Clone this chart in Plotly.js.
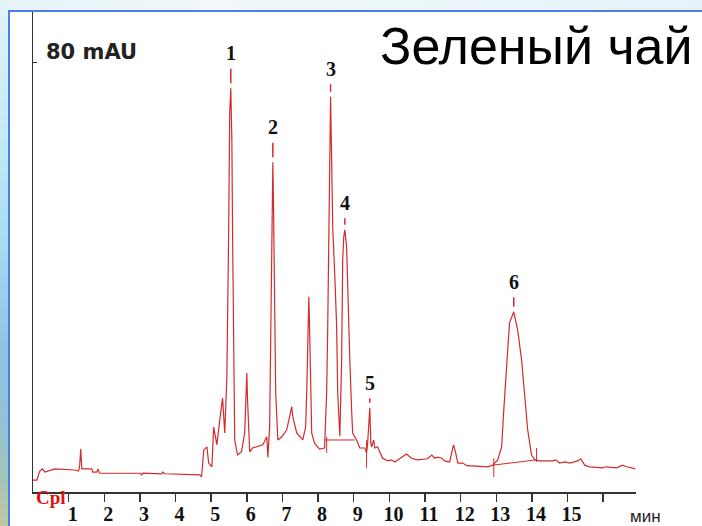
<!DOCTYPE html>
<html>
<head>
<meta charset="utf-8">
<script src="https://cdn.plot.ly/plotly-3.0.1.min.js"></script>
<style>
  html, body { margin:0; padding:0; width:702px; height:526px; overflow:hidden;
    background: linear-gradient(90deg, #e6f2f9 0%, #f1f7fb 30%, #eaf5fb 70%, #e4f3fa 100%); }
  #leftstrip { position:absolute; left:0; top:0; width:8px; height:526px;
    background: linear-gradient(180deg, #e3f3fa 0%, #c4ebf9 25%, #a9def5 45%, #8fc4e4 65%, #93c2d8 80%, #a6c6b4 92%, #c0c6a0 100%); }
  #panel { position:absolute; left:8px; top:10px; width:694px; height:516px; background:#ffffff;
    border-left:2px solid #4a7fe6; border-top:2px solid #4a7fe6; box-sizing:border-box; }
  #chart { position:absolute; left:0; top:0; width:702px; height:526px; }
</style>
</head>
<body>
<div id="leftstrip"></div>
<div id="panel"></div>
<div id="chart"></div>
<script>
// Retention time (min)
var time = [0.00,0.11,0.19,0.27,0.33,0.56,0.61,1.17,1.28,1.31,1.34,1.37,1.65,1.68,1.79,1.82,1.87,3.00,3.05,3.08,3.61,3.64,3.70,4.68,4.73,4.79,4.88,4.93,5.02,5.07,5.16,5.24,5.32,5.38,5.44,5.49,5.52,5.55,5.58,5.60,5.63,5.66,5.74,5.85,5.94,6.00,6.02,6.08,6.16,6.45,6.56,6.59,6.64,6.70,6.73,6.75,6.78,6.81,6.87,6.98,7.12,7.26,7.29,7.40,7.57,7.65,7.68,7.71,7.74,7.76,7.79,7.82,7.90,8.04,8.18,8.21,8.24,8.27,8.30,8.32,8.35,8.38,8.41,8.47,8.52,8.55,8.61,8.66,8.69,8.72,8.75,8.80,8.83,8.89,8.94,8.97,9.08,9.17,9.31,9.36,9.39,9.42,9.45,9.48,9.50,9.56,9.59,9.67,9.81,9.95,10.06,10.15,10.29,10.37,10.48,10.62,10.79,11.07,11.19,11.27,11.35,11.47,11.55,11.69,11.75,11.80,11.86,11.92,12.06,12.17,12.76,12.90,13.04,13.15,13.21,13.29,13.37,13.49,13.60,13.71,13.79,13.88,13.99,14.08,14.22,14.58,14.66,14.78,14.92,15.06,15.28,15.37,15.48,15.62,15.98,16.09,16.38,16.54,16.66,16.82,16.90];
// Detector signal (mAU)
var signal = [2.2,2.2,3.9,4.3,3.7,4.1,4.3,4.1,3.9,5.0,8.0,4.3,4.3,3.7,3.7,4.3,3.5,3.5,3.2,3.5,3.4,3.7,3.4,3.2,2.8,7.8,8.4,5.4,4.7,12.1,8.8,13.4,17.5,11.0,21.5,48.3,70.7,75.3,65.6,48.3,21.5,9.7,6.9,7.5,11.0,22.2,17.2,7.5,8.2,8.8,10.3,6.5,12.1,43.3,61.5,52.6,37.1,18.5,9.7,10.3,11.6,15.9,14.0,11.0,9.7,12.1,18.5,30.8,36.4,30.8,18.5,11.0,9.1,8.0,8.2,12.1,18.5,30.8,49.4,68.1,73.7,61.9,49.4,40.1,30.8,18.5,10.4,24.6,43.3,47.6,48.9,45.7,37.1,24.6,15.3,11.0,9.7,8.2,8.2,7.3,9.1,13.4,15.7,9.1,8.4,9.7,8.2,8.4,6.3,5.8,6.0,5.6,6.2,6.5,7.1,6.3,6.0,6.2,6.9,6.3,6.5,6.3,5.8,5.6,7.3,8.8,7.3,5.4,5.4,4.9,4.7,5.0,6.0,8.4,15.3,22.8,31.5,33.6,30.2,24.6,18.5,11.6,6.9,6.0,5.8,5.8,6.0,5.4,5.6,5.4,5.8,6.2,5.0,4.7,4.5,4.7,4.5,5.0,4.7,4.5,4.3];
// Integration baseline segments (null separates segments)
var baseTime   = [8.24,8.24,null,8.18,9.03,null,9.36,9.36,null,12.90,14.13,null,12.93,12.93,null,14.13,14.13];
var baseSignal = [10.3,7.3,null,9.7,9.7,null,9.7,4.5,null,5.0,6.0,null,6.3,2.8,null,8.2,5.6];
// Peak labels
var peakNames = ['1','2','3','4','5','6'];
var peakTimes = [5.55,6.73,8.35,8.75,9.45,13.49];
var peakTops  = [75.3,61.5,73.7,48.9,15.7,33.6];
// Axis ticks
var tickVals = [1,2,3,4,5,6,7,8,9,10,11,12,13,14,15,16];
var tickText = ['1','2','3','4','5','6','7','8','9','10','11','12','13','14','15',''];
var yTickVals = [80];

var red = '#d42a2a';
var traces = [
  {x: time, y: signal, type:'scatter', mode:'lines', line:{color:red, width:1.2}, hoverinfo:'skip', showlegend:false},
  {x: baseTime, y: baseSignal, type:'scatter', mode:'lines', connectgaps:false, line:{color:red, width:1}, hoverinfo:'skip', showlegend:false}
];

var labelOffsets = [-35,-35,-28,-27,-25,-30];
var annotations = peakNames.map(function(n,i){
  return {x: peakTimes[i], y: peakTops[i], xref:'x', yref:'y', text:'<b>'+n+'</b>',
    showarrow:true, arrowhead:0, arrowwidth:1.5, arrowcolor:red, ax:0, ay:labelOffsets[i],
    standoff:5, startstandoff:3,
    font:{family:'Liberation Serif, Times New Roman, serif', size:20, color:'#111'}};
});
annotations.push({xref:'paper', yref:'paper', x:1, y:1, xanchor:'right', yanchor:'top', xshift:59, yshift:-3,
  text:'Зеленый чай', showarrow:false, font:{family:'Liberation Sans, Arial, sans-serif', size:52, color:'#000'}});
annotations.push({xref:'paper', yref:'y', x:0, y:80, xanchor:'left', yanchor:'middle', xshift:11, yshift:11,
  text:'<b>80 mAU</b>', showarrow:false, font:{family:'DejaVu Sans, sans-serif', size:21, color:'#222'}});
annotations.push({xref:'paper', yref:'paper', x:0, y:0, xanchor:'left', yanchor:'middle', xshift:1, yshift:-5,
  text:'<b>Cpl</b>', showarrow:false, font:{family:'Liberation Serif, serif', size:19, color:'#e01010'}});
annotations.push({xref:'paper', yref:'paper', x:1, y:0, xanchor:'right', yanchor:'middle', xshift:27, yshift:-24,
  text:'мин', showarrow:false, font:{family:'Liberation Sans, Arial, sans-serif', size:17, color:'#222'}});

var layout = {
  width:702, height:526,
  margin:{l:33, r:66, t:12, b:34},
  paper_bgcolor:'rgba(0,0,0,0)', plot_bgcolor:'rgba(0,0,0,0)',
  showlegend:false,
  xaxis:{range:[0,16.92], showgrid:false, zeroline:false, showline:true, linecolor:'#333', linewidth:1.5,
    ticks:'outside', ticklen:8, tickwidth:1.5, tickcolor:'#333', tickvals:tickVals, ticktext:tickText,
    ticklabelshift:4, ticklabelstandoff:-5,
    tickfont:{family:'Liberation Serif, Times New Roman, serif', size:20, color:'#111', weight:'bold'}},
  yaxis:{range:[0,89.5], showgrid:false, zeroline:false, showline:true, linecolor:'#333', linewidth:1.5,
    ticks:'inside', ticklen:4, tickcolor:'#333', tickvals:yTickVals, showticklabels:false},
  annotations: annotations
};
Plotly.newPlot('chart', traces, layout, {displayModeBar:false, staticPlot:true});
</script>
</body>
</html>
